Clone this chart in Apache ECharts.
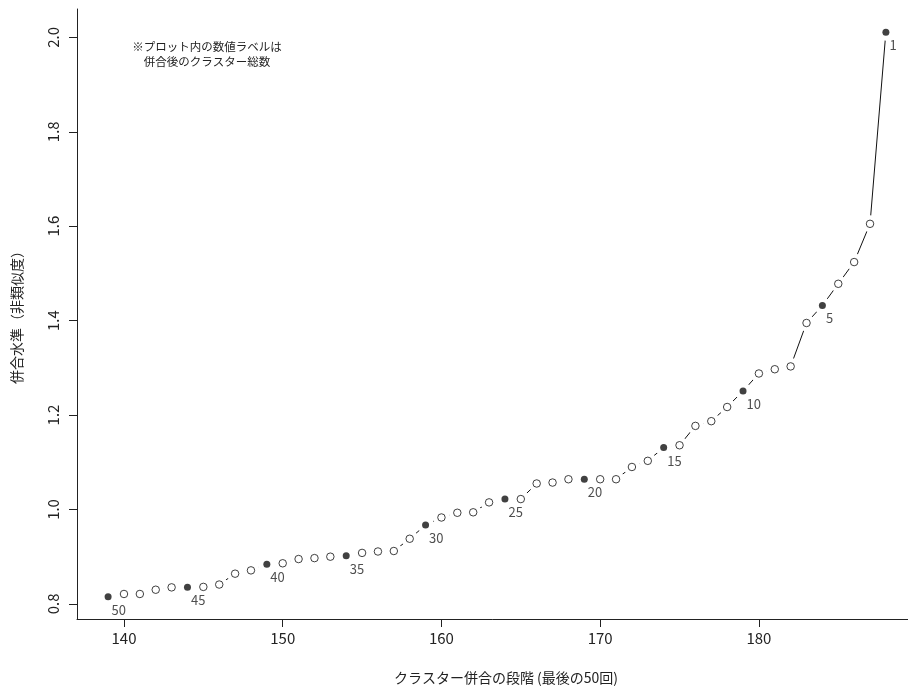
<!DOCTYPE html>
<html>
<head>
<meta charset="utf-8">
<script src="https://cdn.jsdelivr.net/npm/echarts@6/dist/echarts.min.js"></script>
<style>
html,body{margin:0;padding:0;background:#fff;}
#chart{width:908px;height:688px;}
</style>
</head>
<body>
<div id="chart"></div>
<script>
// Merge step (last 50 merges)
const steps = [139,140,141,142,143,144,145,146,147,148,149,150,151,152,153,154,155,156,157,158,159,160,161,162,163,164,165,166,167,168,169,170,171,172,173,174,175,176,177,178,179,180,181,182,183,184,185,186,187,188];
// Merge height (dissimilarity)
const heights = [0.815,0.821,0.821,0.830,0.835,0.835,0.836,0.841,0.864,0.871,0.884,0.886,0.895,0.897,0.900,0.902,0.908,0.911,0.912,0.938,0.967,0.983,0.993,0.994,1.015,1.022,1.022,1.055,1.057,1.064,1.064,1.064,1.064,1.090,1.103,1.131,1.136,1.177,1.187,1.217,1.251,1.288,1.297,1.303,1.395,1.432,1.478,1.524,1.605,2.011];
// Highlighted steps and the cluster counts after merging
const labelSteps = [139,144,149,154,159,164,169,174,179,184,188];
const labelTexts = ['50','45','40','35','30','25','20','15','10','5','1'];
// Tick values
const xTicks = [140,150,160,170,180];
const yTicks = [0.8,1.0,1.2,1.4,1.6,1.8,2.0];
const xTitle = 'クラスター併合の段階 (最後の50回)';
const yTitle = '併合水準（非類似度）';
const noteLines = ['※プロット内の数値ラベルは','併合後のクラスター総数'];

const FONT = '"Noto Sans CJK JP", "Noto Sans", sans-serif';
const allPts = steps.map((s, i) => [s, heights[i]]);
const filledPts = labelSteps.map((s, k) => ({ value: [s, heights[steps.indexOf(s)]], name: labelTexts[k] }));
const openPts = allPts.filter(p => labelSteps.indexOf(p[0]) < 0);

const chart = echarts.init(document.getElementById('chart'), null, { renderer: 'canvas' });
chart.setOption({
  backgroundColor: '#ffffff',
  animation: false,
  grid: { left: 77, top: 9, width: 840, height: 610, containLabel: false, outerBoundsMode: 'none' },
  xAxis: {
    type: 'value', min: 137.04, max: 189.96,
    axisLine: { show: true, onZero: false, lineStyle: { color: '#222', width: 1 } },
    axisTick: { show: true, length: 8, customValues: xTicks, lineStyle: { color: '#222' } },
    axisLabel: { customValues: xTicks, margin: 12, fontFamily: FONT, fontSize: 15, color: '#222' },
    splitLine: { show: false }
  },
  yAxis: {
    type: 'value', min: 0.768, max: 2.060,
    name: yTitle, nameLocation: 'middle', nameGap: 53, nameRotate: 90,
    nameTextStyle: { fontFamily: FONT, fontSize: 14, color: '#222' },
    axisLine: { show: true, onZero: false, lineStyle: { color: '#222', width: 1 } },
    axisTick: { show: true, length: 8, customValues: yTicks, lineStyle: { color: '#222' } },
    axisLabel: { customValues: yTicks, rotate: 90, margin: 16, fontFamily: FONT, fontSize: 15, color: '#222',
      formatter: v => v.toFixed(1) },
    splitLine: { show: false }
  },
  graphic: [
    { type: 'text', x: 506, y: 678, style: { text: xTitle, fontFamily: FONT, fontSize: 14, fill: '#222', textAlign: 'center', textVerticalAlign: 'middle' } },
    { type: 'text', x: 207, y: 47, style: { text: noteLines[0], fontFamily: FONT, fontSize: 11.5, fill: '#222', textAlign: 'center', textVerticalAlign: 'middle' } },
    { type: 'text', x: 207, y: 62, style: { text: noteLines[1], fontFamily: FONT, fontSize: 11.5, fill: '#222', textAlign: 'center', textVerticalAlign: 'middle' } }
  ],
  series: [
    { type: 'line', data: allPts, showSymbol: false, symbol: 'none', z: 1, silent: true,
      lineStyle: { color: '#111', width: 1 } },
    { type: 'scatter', data: allPts, symbol: 'circle', symbolSize: 17, z: 2, silent: true,
      itemStyle: { color: '#ffffff', opacity: 1 } },
    { type: 'scatter', data: openPts, symbol: 'circle', symbolSize: 7.5, z: 3, silent: true,
      itemStyle: { color: '#ffffff', borderColor: '#111', borderWidth: 1 } },
    { type: 'scatter', data: filledPts, symbol: 'circle', symbolSize: 7, z: 4, silent: true,
      itemStyle: { color: '#111' },
      label: { show: true, position: 'right', distance: 0, offset: [0, 13], formatter: p => p.name,
        fontFamily: FONT, fontSize: 13, color: '#222' } }
  ]
});
</script>
</body>
</html>
